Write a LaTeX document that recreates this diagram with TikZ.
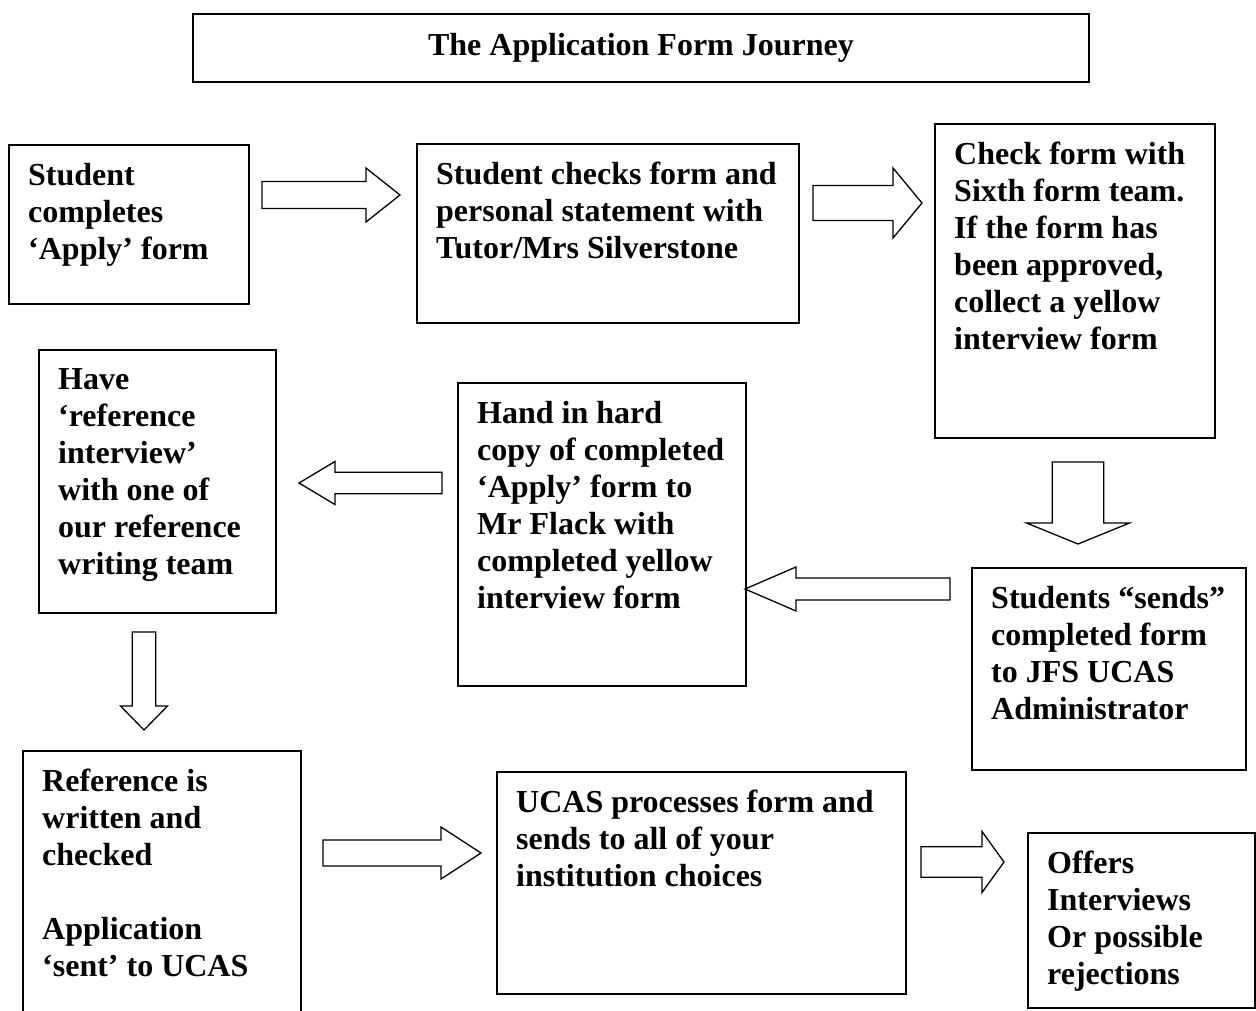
\documentclass[tikz,border=0pt]{standalone}
\usepackage{fontspec}
\setmainfont{Liberation Serif}
\usetikzlibrary{calc}
\begin{document}
\begin{tikzpicture}[x=1pt, y=-1pt, line join=miter,
	font=\fontsize{32}{37}\selectfont\bfseries,
	stepbox/.style 2 args={draw, line width=1.6pt, anchor=north west, inner sep=0pt, minimum width=#1, minimum height=#2},
	steptext/.style={anchor=north west, align=left, inner sep=0pt},
	barrow/.style 2 args={line width=1.3pt, to path={
		($(\tikztotarget)!#2!(\tikztostart)$) coordinate (hb)
		($(\tikztostart)!0.5*#1!90:(\tikztotarget)$)
		-- ($(hb)!0.5*#1!-90:(\tikztostart)$) -- ($(hb)!#1!-90:(\tikztostart)$)
		-- (\tikztotarget)
		-- ($(hb)!#1!90:(\tikztostart)$) -- ($(hb)!0.5*#1!90:(\tikztostart)$)
		-- ($(\tikztostart)!0.5*#1!-90:(\tikztotarget)$) -- cycle}}]
	\useasboundingbox (0,0) rectangle (1256,1010);
	\def\dx{20} \def\dy{19} % text inset
	% title
	\node[draw, line width=1.6pt, minimum width=896pt, minimum height=68pt] (title) at (641,48) {The Application Form Journey};
	% boxes
	\node[stepbox={240pt}{159pt}] (s1) at (8,144) {};
	\node[stepbox={382pt}{179pt}] (s2) at (416,143) {};
	\node[stepbox={280pt}{314pt}] (s3) at (934,123) {};
	\node[stepbox={274pt}{202pt}] (s4) at (971,567) {};
	\node[stepbox={288pt}{303pt}] (s5) at (457,382) {};
	\node[stepbox={237pt}{263pt}] (s6) at (38,349) {};
	\node[stepbox={278pt}{290pt}] (s7) at (22,750) {};
	\node[stepbox={409pt}{222pt}] (s8) at (496,771) {};
	\node[stepbox={227pt}{175pt}] (s9) at (1027,832) {};
	% texts
	\node[steptext] (t1) at ([shift={(\dx,\dy)}]s1.north west) {Student\\completes\\‘Apply’ form};
	\node[steptext] (t2) at ([shift={(\dx,\dy)}]s2.north west) {Student checks form and\\personal statement with\\Tutor/Mrs Silverstone};
	\node[steptext] (t3) at ([shift={(\dx,\dy)}]s3.north west) {Check form with\\Sixth form team.\\If the form has\\been approved,\\collect a yellow\\interview form};
	\node[steptext] (t4) at ([shift={(\dx,\dy)}]s4.north west) {Students “sends”\\completed form\\to JFS UCAS\\Administrator};
	\node[steptext] (t5) at ([shift={(\dx,\dy)}]s5.north west) {Hand in hard\\copy of completed\\‘Apply’ form to\\Mr Flack with\\completed yellow\\interview form};
	\node[steptext] (t6) at ([shift={(\dx,\dy)}]s6.north west) {Have\\‘reference\\interview’\\with one of\\our reference\\writing team};
	\node[steptext] (t7) at ([shift={(\dx,\dy)}]s7.north west) {Reference is\\written and\\checked\\[37pt]Application\\‘sent’ to UCAS};
	\node[steptext] (t8) at ([shift={(\dx,\dy)}]s8.north west) {UCAS processes form and\\sends to all of your\\institution choices};
	\node[steptext] (t9) at ([shift={(\dx,\dy)}]s9.north west) {Offers\\Interviews\\Or possible\\rejections};
	% arrow ends
	\coordinate (a1s) at (262,195);  \coordinate (a1e) at (400,195);
	\coordinate (a2s) at (813,203);  \coordinate (a2e) at (922,203);
	\coordinate (a3s) at (1078,462); \coordinate (a3e) at (1078,544);
	\coordinate (a4s) at (950,589);  \coordinate (a4e) at (745,589);
	\coordinate (a5s) at (442,483);  \coordinate (a5e) at (299,483);
	\coordinate (a6s) at (144,632);  \coordinate (a6e) at (144,730);
	\coordinate (a7s) at (323,853);  \coordinate (a7e) at (481,853);
	\coordinate (a8s) at (921,862);  \coordinate (a8e) at (1004,862);
	\draw[barrow={27pt}{34pt}] (a1s) to (a1e);
	\draw[barrow={35pt}{29pt}] (a2s) to (a2e);
	\draw[barrow={51.5pt}{21pt}] (a3s) to (a3e);
	\draw[barrow={22pt}{51pt}] (a4s) to (a4e);
	\draw[barrow={21.5pt}{36pt}] (a5s) to (a5e);
	\draw[barrow={23.5pt}{24pt}] (a6s) to (a6e);
	\draw[barrow={26pt}{40pt}] (a7s) to (a7e);
	\draw[barrow={30.5pt}{22pt}] (a8s) to (a8e);
\end{tikzpicture}
\end{document}
